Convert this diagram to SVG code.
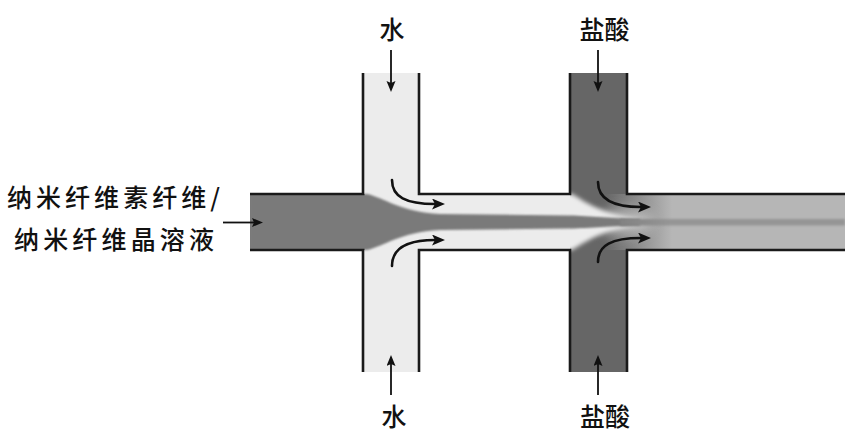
<svg xmlns="http://www.w3.org/2000/svg" width="850" height="437" viewBox="0 0 850 437">
<style>
  .lbl { font-family: "Noto Sans CJK SC", "Noto Sans", sans-serif; font-size: 25px; font-weight: 500; fill: #111; }
  .wall { fill: none; stroke: #1a1a1a; stroke-width: 2.6; }
  .arr { fill: none; stroke: #111; stroke-width: 2.6; stroke-linecap: round; }
  .sarr { fill: none; stroke: #111; stroke-width: 1.8; }
</style>
<defs>
  <clipPath id="chan">
    <rect x="250" y="194" width="595" height="56"/>
    <rect x="363" y="73" width="56" height="299"/>
    <rect x="570" y="73" width="57" height="299"/>
  </clipPath>
  <filter id="soft" x="-10%" y="-50%" width="120%" height="200%"><feGaussianBlur stdDeviation="1"/></filter>
  <filter id="soft2" x="-10%" y="-50%" width="120%" height="200%"><feGaussianBlur stdDeviation="2"/></filter>
  <filter id="soft6" x="-50%" y="-50%" width="200%" height="200%"><feGaussianBlur stdDeviation="6"/></filter>
  <linearGradient id="rightG" gradientUnits="userSpaceOnUse" x1="605" y1="0" x2="672" y2="0">
    <stop offset="0" stop-color="#666666"/>
    <stop offset="1" stop-color="#b6b6b6"/>
  </linearGradient>
  <linearGradient id="coreG" gradientUnits="userSpaceOnUse" x1="600" y1="0" x2="670" y2="0">
    <stop offset="0" stop-color="#7a7a7a"/>
    <stop offset="1" stop-color="#959595"/>
  </linearGradient>
  <marker id="ah" markerUnits="userSpaceOnUse" markerWidth="14" markerHeight="12" refX="3" refY="5.5" orient="auto" viewBox="0 0 14 12">
    <path d="M0,0 L13,5.5 L0,11 L3,5.5 Z" fill="#111"/>
  </marker>
  <marker id="sh" markerUnits="userSpaceOnUse" markerWidth="12" markerHeight="10" refX="2" refY="4.5" orient="auto" viewBox="0 0 12 10">
    <path d="M0,0 L11,4.5 L0,9 L2,4.5 Z" fill="#111"/>
  </marker>
</defs>

<g id="channels">
  <g clip-path="url(#chan)">
    <rect id="water-channel" x="363" y="73" width="56" height="299" fill="#ececec"/>
    <rect x="419" y="194" width="151" height="56" fill="#ececec"/>
    <rect id="acid-channel" x="570" y="73" width="57" height="299" fill="#666666"/>
    <rect x="570" y="194" width="275" height="56" fill="url(#rightG)"/>
    <ellipse cx="625" cy="222" rx="28" ry="14" fill="#d8d8d8" opacity="0.55" filter="url(#soft6)"/>
    <g filter="url(#soft2)">
      <path d="M560 194 L572 194 C590 205 606 216 646 219.5 L560 219.5 Z" fill="#ececec"/>
      <path d="M560 250 L572 250 C590 239 606 228 646 225 L560 225 Z" fill="#ececec"/>
    </g>
    <rect x="250" y="194" width="115" height="56" fill="#7a7a7a"/>
    <path filter="url(#soft)" fill="#7a7a7a" d="M250 194 L367 194 C385 198 400 212 440 214 L570 215.5 C590 216 606 218.5 640 219 L640 225.5 C606 226 590 228 570 228.5 L440 230 C400 232 385 246 367 250 L250 250 Z"/>
    <rect x="620" y="219" width="225" height="6.5" fill="url(#coreG)" filter="url(#soft)"/>
  </g>
  <path class="wall" d="M250 194 H363 V73 M419 73 V194 H570 V73 M627 73 V194 H845 M250 250 H363 V372 M419 372 V250 H570 V372 M627 372 V250 H845"/>
</g>

<g id="connectors">
  <path class="arr" marker-end="url(#ah)" d="M392 180 C392 197 406 204 435 204"/>
  <path class="arr" marker-end="url(#ah)" d="M392 266 C392 249 406 240 435 240"/>
  <path class="arr" marker-end="url(#ah)" d="M598 182 C598 199 612 207 641 207"/>
  <path class="arr" marker-end="url(#ah)" d="M598 262 C598 245 612 238 641 238"/>
  <path class="sarr" marker-end="url(#sh)" d="M391 50 V83"/>
  <path class="sarr" marker-end="url(#sh)" d="M598 50 V83"/>
  <path class="sarr" marker-end="url(#sh)" d="M391 395 V364"/>
  <path class="sarr" marker-end="url(#sh)" d="M598 395 V364"/>
  <path class="sarr" marker-end="url(#sh)" d="M223 222.5 H254"/>
</g>

<g id="label-water-top"><text class="lbl" x="392" y="39" text-anchor="middle">水</text></g>
<g id="label-acid-top"><text class="lbl" x="604.5" y="39" text-anchor="middle">盐酸</text></g>
<g id="label-water-bottom"><text class="lbl" x="394" y="426" text-anchor="middle">水</text></g>
<g id="label-acid-bottom"><text class="lbl" x="605" y="426" text-anchor="middle">盐酸</text></g>
<g id="label-inlet">
  <text class="lbl" x="7" y="207" textLength="213" lengthAdjust="spacing">纳米纤维素纤维/</text>
  <text class="lbl" x="14" y="249" textLength="200" lengthAdjust="spacing">纳米纤维晶溶液</text>
</g>
</svg>
